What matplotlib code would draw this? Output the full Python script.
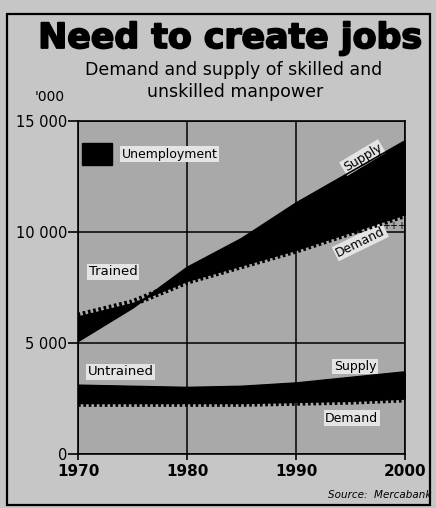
import matplotlib
matplotlib.use("Agg")
import matplotlib.pyplot as plt
import matplotlib.patheffects as pe
from matplotlib.patches import Rectangle

years = [1970, 1975, 1980, 1985, 1990, 1995, 2000]
trained_supply = [5100, 6600, 8400, 9700, 11300, 12700, 14100]
trained_demand = [6200, 6800, 7800, 8500, 9200, 10000, 10800]
untrained_supply = [3100, 3050, 3000, 3050, 3200, 3450, 3700]
untrained_demand = [2300, 2300, 2300, 2300, 2350, 2400, 2500]

y_ticks = [0, 5000, 10000, 15000]
y_labels = ["0", "5 000", "10 000", "15 000"]
x_ticks = [1970, 1980, 1990, 2000]

fig = plt.figure(figsize=(4.36, 5.08), dpi=100)
fig.patch.set_facecolor("#c6c6c6")
ax = fig.add_axes([0.179, 0.106, 0.750, 0.656])
ax.set_facecolor("#a9a9a9")

# border round the whole piece
fig.patches.append(Rectangle((7 / 436, 3 / 508), 423 / 436, 491 / 508,
                             transform=fig.transFigure, fill=False,
                             edgecolor="black", linewidth=1.6))

for sup, dem in [(trained_supply, trained_demand), (untrained_supply, untrained_demand)]:
    ax.fill_between(years, sup, dem, color="black", interpolate=True, zorder=3)
    ax.plot(years, sup, color="black", lw=1.2, zorder=4)
    # serrated demand edge
    ax.plot(years, dem, color="black", lw=5.5, linestyle=(0, (0.35, 0.35)),
            solid_capstyle="butt", zorder=4)

ax.set_xlim(1970, 2000)
ax.set_ylim(0, 15000)
ax.set_yticks(y_ticks)
ax.set_yticklabels(y_labels)
ax.set_xticks(x_ticks)
ax.set_xticklabels([str(x) for x in x_ticks], fontweight="bold")
ax.tick_params(axis="y", length=7, width=1.2, pad=1, labelsize=10.5)
ax.tick_params(axis="x", length=4, width=1.2, pad=3, labelsize=11)
ax.grid(True, color="black", linewidth=1.1, zorder=1)
ax.set_axisbelow(True)
for s in ax.spines.values():
    s.set_linewidth(1.2)

box = dict(facecolor="#e4e4e4", edgecolor="none", pad=1)
ax.add_patch(Rectangle((1970.4, 13000), 2.7, 1000, color="black", zorder=6))
ax.text(1974.0, 13500, "Unemployment", fontsize=9, va="center", ha="left",
        zorder=6, bbox=box)
ax.text(1971.0, 8200, "Trained", fontsize=9.5, va="center", ha="left", bbox=box)
ax.text(1970.9, 3700, "Untrained", fontsize=9.5, va="center", ha="left", bbox=box)
ax.text(1996.1, 13350, "Supply", fontsize=9, rotation=31, ha="center", va="center", bbox=box)
ax.text(1995.9, 9550, "Demand", fontsize=9, rotation=26, ha="center", va="center", bbox=box)
ax.text(1999.0, 10250, "+++", fontsize=7, ha="center", va="center")
ax.text(1995.4, 3950, "Supply", fontsize=9, ha="center", va="center", bbox=box)
ax.text(1995.1, 1620, "Demand", fontsize=9, ha="center", va="center", bbox=box)

fig.text(0.528, 1 - 48 / 508, "Need to create jobs", fontsize=25, fontweight="bold",
         ha="center", va="baseline",
         path_effects=[pe.withStroke(linewidth=1.3, foreground="black")])
fig.text(0.535, 1 - 75 / 508, "Demand and supply of skilled and", fontsize=12.5,
         ha="center", va="baseline")
fig.text(0.540, 1 - 97 / 508, "unskilled manpower", fontsize=12.5,
         ha="center", va="baseline")
fig.text(0.080, 1 - 101 / 508, "'000", fontsize=10, ha="left", va="baseline")
fig.text(0.990, 0.026, "Source:  Mercabank", fontsize=7.5, ha="right", va="center",
         style="italic")

fig.savefig("out.png", dpi=100, facecolor=fig.get_facecolor())
